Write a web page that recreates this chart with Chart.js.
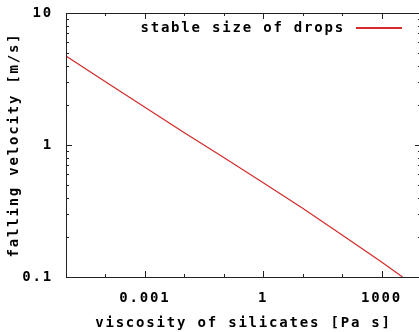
<!DOCTYPE html>
<html>
<head>
<meta charset="utf-8">
<script src="https://cdn.jsdelivr.net/npm/chart.js@4"></script>
<style>
html,body{margin:0;padding:0;background:#fff;overflow:hidden;}
#wrap{width:424px;height:332px;position:relative;}
</style>
</head>
<body>
<div id="wrap"><canvas id="c"></canvas></div>
<script>
// ---- data ----
const viscosity = [1e-5, 1e-4, 1e-3, 1e-2, 0.1, 1, 10, 100, 1000, 3400];
const velocity  = [4.72, 3.02, 1.93, 1.24, 0.805, 0.518, 0.332, 0.208, 0.130, 0.1];
const seriesLabel = 'stable size of drops';
const xTickValues = [0.001, 1, 1000];
const xTickLabels = ['0.001', '1', '1000'];
const yTickValues = [0.1, 1, 10];
const yTickLabels = ['0.1', '1', '10'];
const xTitle = 'viscosity of silicates [Pa s]';
const yTitle = 'falling velocity [m/s]';

const FONT = {family: '"DejaVu Sans Mono", monospace', size: 14, weight: 'bold'};
const LINE_COLOR = '#d42a2a';
const AXIS_COLOR = '#222';
const SPACING = '1.8px';

const framePlugin = {
  id: 'frame',
  beforeUpdate(chart){ chart.ctx.letterSpacing = SPACING; },
  beforeDraw(chart){ chart.ctx.letterSpacing = SPACING; },
  afterDatasetsDraw(chart){
    const ctx = chart.ctx, a = chart.chartArea;
    const xs = chart.scales.x, ys = chart.scales.y;
    ctx.save();
    ctx.strokeStyle = AXIS_COLOR;
    ctx.lineWidth = 1;
    ctx.beginPath();
    ctx.rect(Math.round(a.left)+0.5, Math.round(a.top)+0.5, Math.round(a.right-a.left), Math.round(a.bottom-a.top));
    ctx.stroke();
    // x ticks (each decade, inward, mirrored)
    ctx.beginPath();
    for (let e = Math.ceil(Math.log10(xs.min)); e <= Math.floor(Math.log10(xs.max)); e++) {
      const v = Math.pow(10, e);
      const px = Math.round(xs.getPixelForValue(v)) + 0.5;
      const major = xTickValues.some(t => Math.abs(Math.log10(t) - e) < 1e-9);
      const len = major ? 6 : 3;
      ctx.moveTo(px, a.bottom); ctx.lineTo(px, a.bottom - len);
      ctx.moveTo(px, a.top); ctx.lineTo(px, a.top + len);
    }
    // y ticks (decades + minor)
    for (let e = Math.floor(Math.log10(ys.min)); e <= Math.floor(Math.log10(ys.max)); e++) {
      for (let m = 1; m <= 9; m++) {
        const v = m * Math.pow(10, e);
        if (v < ys.min - 1e-12 || v > ys.max + 1e-9) continue;
        const py = Math.round(ys.getPixelForValue(v)) + 0.5;
        const len = m === 1 ? 6 : 3;
        ctx.moveTo(a.left, py); ctx.lineTo(a.left + len, py);
        ctx.moveTo(a.right, py); ctx.lineTo(a.right - len, py);
      }
    }
    ctx.stroke();
    // legend: text then line sample
    const ds = chart.data.datasets[0];
    const ly = Math.round(a.top + 14);
    ctx.font = 'bold 14px "DejaVu Sans Mono", monospace';
    ctx.letterSpacing = SPACING;
    ctx.fillStyle = '#000';
    ctx.textAlign = 'right';
    ctx.textBaseline = 'middle';
    ctx.fillText(ds.label, a.right - 76, ly + 1);
    ctx.fillStyle = LINE_COLOR;
    ctx.fillRect(Math.round(a.right - 65), ly, 46, 2);
    ctx.restore();
  }
};

Chart.defaults.font = FONT;
Chart.defaults.color = '#000';

new Chart(document.getElementById('c'), {
  type: 'line',
  data: {
    datasets: [{
      label: seriesLabel,
      data: viscosity.map((x, i) => ({x: x, y: velocity[i]})),
      borderColor: LINE_COLOR,
      borderWidth: 1.2,
      pointRadius: 0,
      tension: 0,
      fill: false
    }]
  },
  options: {
    responsive: true,
    maintainAspectRatio: false,
    animation: false,
    devicePixelRatio: 1,
    layout: {padding: {top: 13, right: 3, left: 0, bottom: 0}},
    plugins: {legend: {display: false}, tooltip: {enabled: false}},
    scales: {
      x: {
        type: 'logarithmic',
        min: 1e-5, max: 1e4,
        grid: {display: false, drawTicks: false},
        border: {display: false},
        afterBuildTicks: s => { s.ticks = xTickValues.map(v => ({value: v})); },
        afterFit: s => { s.height = 55; },
        ticks: {
          padding: 13,
          maxRotation: 0,
          autoSkip: false,
          font: FONT,
          color: '#000',
          callback: (v) => { const i = xTickValues.indexOf(v); return i >= 0 ? xTickLabels[i] : ''; }
        },
        title: {display: true, text: xTitle, font: FONT, color: '#000', padding: {top: 0, bottom: 0}}
      },
      y: {
        type: 'logarithmic',
        min: 0.1, max: 10,
        grid: {display: false, drawTicks: false},
        border: {display: false},
        afterBuildTicks: s => { s.ticks = yTickValues.map(v => ({value: v})); },
        afterFit: s => { s.width = 66; s.paddingTop = 0; s.paddingBottom = 0; },
        ticks: {
          padding: 13,
          autoSkip: false,
          font: Object.assign({}, FONT, {lineHeight: 0.4}),
          color: '#000',
          callback: (v) => { const i = yTickValues.indexOf(v); return i >= 0 ? yTickLabels[i] : ''; }
        },
        title: {display: true, text: yTitle, font: FONT, color: '#000', padding: {top: 6, bottom: 0}}
      }
    }
  },
  plugins: [framePlugin]
});
</script>
</body>
</html>
